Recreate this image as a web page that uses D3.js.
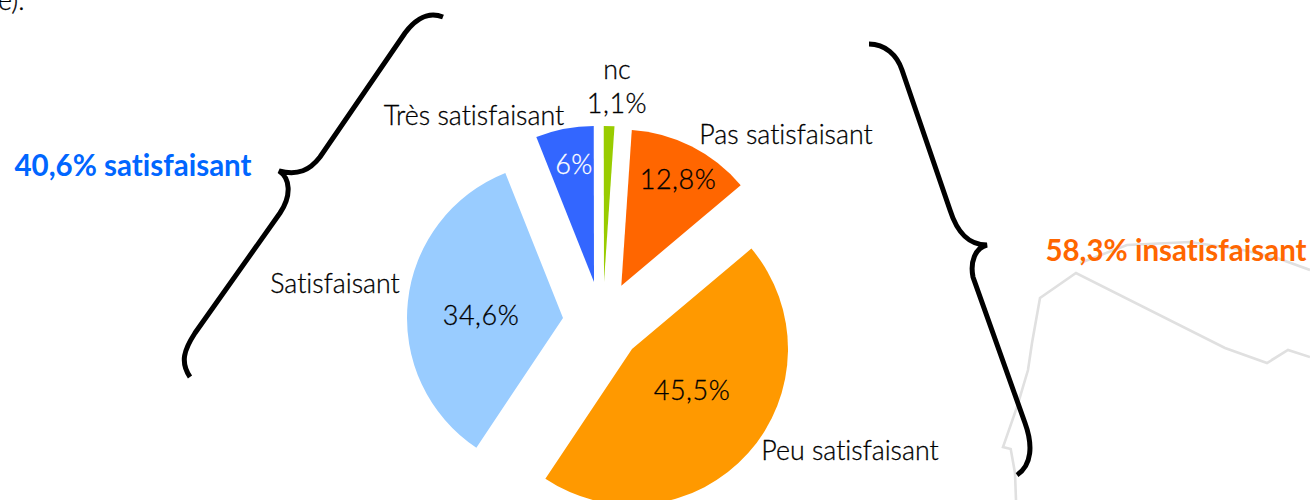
<!DOCTYPE html>
<html><head><meta charset="utf-8">
<script src="https://cdn.jsdelivr.net/npm/d3@7"></script>
<style>html,body{margin:0;padding:0;background:#fff}svg{display:block}text{font-family:Lato,"Open Sans",sans-serif;font-variant-ligatures:none;font-weight:300;stroke-width:0.3px}</style>
</head><body><div id="c"></div>
<script>
const categories=["nc","Pas satisfaisant","Peu satisfaisant","Satisfaisant","Très satisfaisant"];
const values=[1.1,12.8,45.5,34.6,6];
const valueLabels=["1,1%","12,8%","45,5%","34,6%","6%"];
const colors=["#99cc00","#ff6600","#ff9900","#99ccff","#3366ff"];
const valueColors=["#000","#000","#000","#000","#fff"];
const offsets=[[0,-40],[17.3,-36.3],[28,27],[-41,-4],[-10,-40]];
const valuePos=[[617,113,"middle"],[678,189,"middle"],[692,400,"middle"],[481,325,"middle"],[574,174,"middle"]];
const namePos=[[617,79,"middle"],[786,144,"middle"],[850,460,"middle"],[335,293,"middle"],[474,125,"middle"]];
const groupLabels=["40,6% satisfaisant","58,3% insatisfaisant"];
const mapLine1=[[1016,500],[1015,473],[1010.7,449],[1003,447],[1017,407],[1028,370],[1032,343],[1040,298],[1076,273],[1225,348],[1267,363],[1288,350],[1310,357]];
const mapLine2=[[1080,263],[1127,245],[1190,242],[1243,250],[1277,258],[1310,270]];
const W=1310,H=500,cx=604,cy=322,R=156,fs=26.8,vfs=27;
const svg=d3.select("#c").append("svg").attr("width",W).attr("height",H);
const line=d3.line();
svg.selectAll("path.map").data([mapLine1,mapLine2]).join("path").attr("class","map").attr("d",line).attr("fill","none").attr("stroke","#e0e0e0").attr("stroke-width",2.6);
const pie=d3.pie().sort(null).value(d=>d).startAngle(-0.1*Math.PI/180).endAngle(359.9*Math.PI/180);
const arc=d3.arc().innerRadius(0).outerRadius(R);
const arcs=pie(values);
svg.selectAll("path.s").data(arcs).join("path").attr("class","s").attr("fill",(d,i)=>colors[i]).attr("d",arc)
 .attr("transform",(d,i)=>`translate(${cx+offsets[i][0]},${cy+offsets[i][1]})`);
const braces=["M443,17 C430,12 418,16 405,33 L320,157 C310,170 298,176 279,171 C290,178 292,195 280,213 L195,333 C184,350 180,362 190,377",
"M869,44 C885,44 897,55 902,70 L950,210 C957,232 968,245 987,245 C975,248 970,262 973,277 L1025,423 C1033,445 1032,465 1017,475"];
svg.selectAll("path.b").data(braces).join("path").attr("class","b").attr("d",d=>d).attr("fill","none").attr("stroke","#000").attr("stroke-width",5);
svg.append("text").attr("x",-2).attr("y",10).attr("font-size",fs).attr("stroke","#000").text("e).");
categories.forEach((c,i)=>{svg.append("text").attr("x",namePos[i][0]).attr("y",namePos[i][1]).attr("text-anchor",namePos[i][2]).attr("font-size",fs).attr("stroke","#000").text(c);});
valueLabels.forEach((v,i)=>{svg.append("text").attr("x",valuePos[i][0]).attr("y",valuePos[i][1]).attr("text-anchor",valuePos[i][2]).attr("font-size",vfs).attr("letter-spacing",0.5).attr("fill",valueColors[i]).attr("stroke",valueColors[i]).text(v);});
svg.append("text").attr("x",133).attr("y",176).attr("text-anchor","middle").attr("font-size",29.5).style("font-weight",700).style("stroke-width",0).attr("fill","#0066ff").text(groupLabels[0]);
svg.append("text").attr("x",1176).attr("y",261).attr("text-anchor","middle").attr("font-size",29.5).style("font-weight",700).style("stroke-width",0).attr("fill","#ff6600").text(groupLabels[1]);
</script></body></html>
